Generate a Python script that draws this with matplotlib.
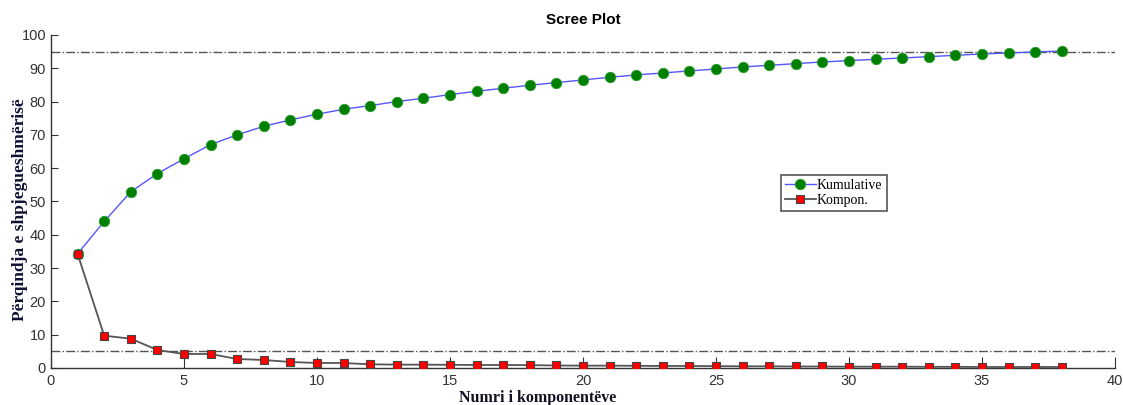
import matplotlib.pyplot as plt

# komponentet 1..38
komponentet = list(range(1, 39))

kumulative = [34.3, 44.0, 52.9, 58.4, 62.8, 67.1, 70.0, 72.6, 74.5, 76.2,
              77.7, 78.8, 80.0, 81.0, 82.1, 83.1, 84.0, 84.9, 85.7, 86.5,
              87.3, 88.0, 88.6, 89.2, 89.8, 90.4, 90.9, 91.4, 91.9, 92.3,
              92.7, 93.1, 93.5, 93.9, 94.3, 94.6, 94.9, 95.2]

kompon = [34.3, 9.7, 8.8, 5.4, 4.2, 4.2, 2.7, 2.4, 1.8, 1.5,
          1.5, 1.1, 1.0, 1.0, 0.95, 0.9, 0.9, 0.85, 0.75, 0.7,
          0.7, 0.65, 0.6, 0.6, 0.55, 0.5, 0.5, 0.45, 0.45, 0.4,
          0.4, 0.4, 0.35, 0.35, 0.3, 0.3, 0.3, 0.3]

pragjet = [95, 5]

fig = plt.figure(figsize=(11.23, 4.05), dpi=100)
ax = fig.add_axes([0.0454, 0.0914, 0.9474, 0.8222])

for p in pragjet:
    ax.axhline(p, color="#555555", linestyle="-.", linewidth=1.0, zorder=1)

ax.plot(komponentet, kumulative, color="#5555ff", linewidth=1.0,
        marker="o", markersize=7.5, markerfacecolor="#008000",
        markeredgecolor="#2a9a2a", markeredgewidth=0.6,
        label="Kumulative", zorder=3)
ax.plot(komponentet, kompon, color="#555555", linewidth=1.3,
        marker="s", markersize=6, markerfacecolor="#ff0000",
        markeredgecolor="#444444", markeredgewidth=0.8,
        label="Kompon.", zorder=4)

ax.set_xlim(0, 40)
ax.set_ylim(0, 100)
ax.set_xticks(range(0, 41, 5))
ax.set_yticks(range(0, 101, 10))

for s in ["top", "right"]:
    ax.spines[s].set_visible(False)
for s in ["left", "bottom"]:
    ax.spines[s].set_color("#333333")
    ax.spines[s].set_linewidth(1.0)

ax.tick_params(direction="in", colors="#333333", labelcolor="#333333",
               labelsize=10.5, length=5)
ax.tick_params(axis="x", length=8, pad=4)
for lbl in ax.get_xticklabels() + ax.get_yticklabels():
    lbl.set_family("Liberation Sans")

ax.set_title("Scree Plot", fontsize=11, fontweight="bold",
             family="Liberation Sans", pad=8)
ax.set_xlabel("Numri i komponentëve", fontsize=11.5, fontweight="bold",
              family="Liberation Serif", color="#111122")
ax.xaxis.set_label_coords(0.457, -0.066)
ax.set_ylabel("Përqindja e shpjegueshmërisë", fontsize=12.5, fontweight="bold",
              family="Liberation Serif", color="#111133")
ax.yaxis.set_label_coords(-0.022, 0.475)

leg = ax.legend(loc="upper left", bbox_to_anchor=(0.686, 0.58),
                prop={"family": "Liberation Serif", "size": 10},
                fancybox=False, framealpha=1, edgecolor="#555555",
                borderpad=0.3, handlelength=2.2, handletextpad=0.1,
                labelspacing=0.15, borderaxespad=0)
leg.get_frame().set_linewidth(1.2)

fig.savefig("out.png", dpi=100)
